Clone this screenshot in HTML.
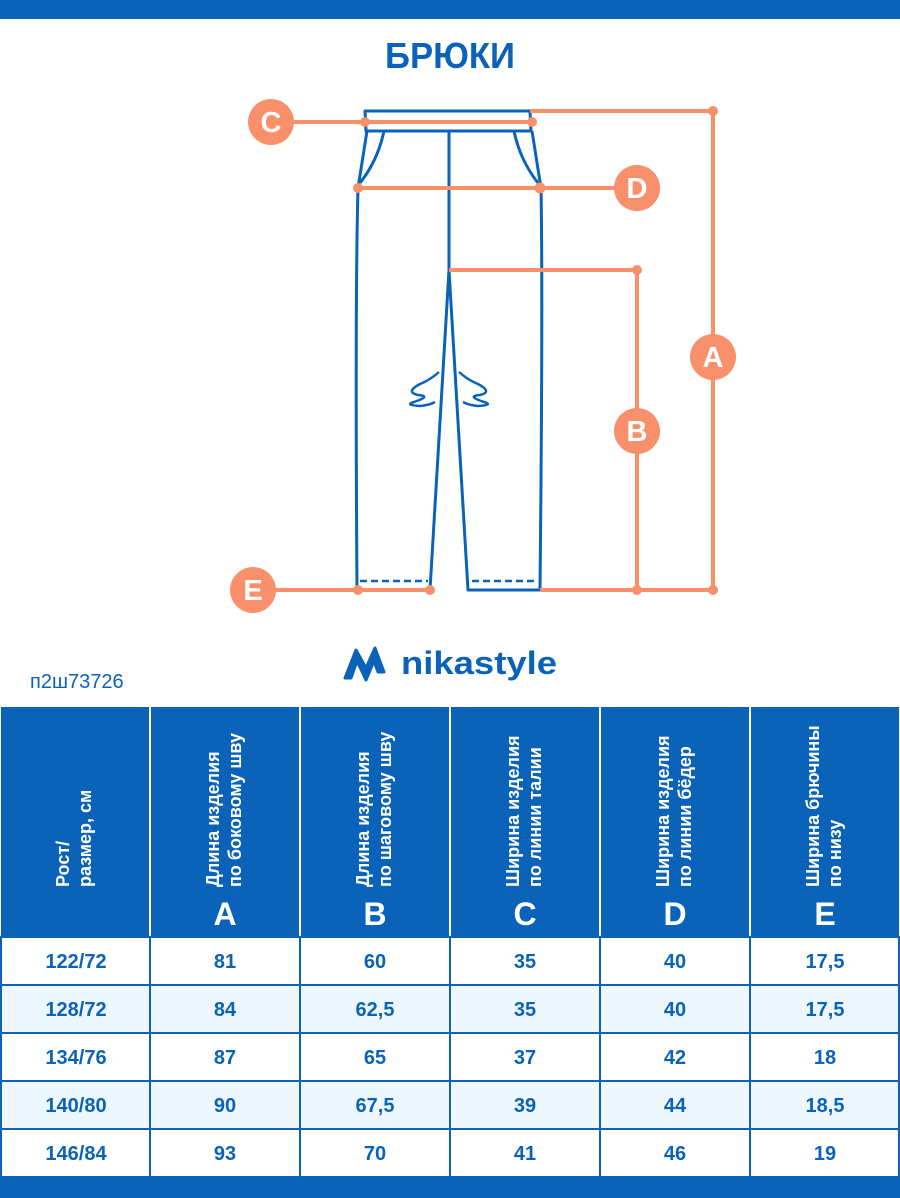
<!DOCTYPE html>
<html><head><meta charset="utf-8"><style>
html,body{margin:0;padding:0;background:#fff;}
svg{display:block;}
text{font-family:"Liberation Sans","DejaVu Sans",sans-serif;}
</style></head><body>
<svg width="900" height="1198" viewBox="0 0 900 1198" xmlns="http://www.w3.org/2000/svg">
<rect x="0" y="0" width="900" height="19" fill="#0a63b9"/>
<text x="450" y="68" text-anchor="middle" font-size="36" font-weight="bold" fill="#0a63b9" textLength="130" lengthAdjust="spacingAndGlyphs">БРЮКИ</text>

<!-- pants -->
<g fill="none" stroke="#0a63b9" stroke-width="3" stroke-linejoin="round">
<path d="M365 111 L530 111 L531 131 L366 131 Z"/>
<path d="M367 131 L358 188 Q355 300 357 590 L430 590 L449 270 L468 590 L540 590 Q543 300 541 188 L532 131"/>
<path d="M449 131 L449 270"/>
<path d="M384 131 Q378 160 360 183"/>
<path d="M514 131 Q520 160 538 183"/>
<path d="M439 372 Q430 380 420 384 Q405 392 418 395 Q432 396 414 402 Q404 405 420 406 Q430 405 435 402" stroke-width="2.5"/>
<path d="M459 372 Q468 380 478 384 Q493 392 480 395 Q466 396 484 402 Q494 405 478 406 Q468 405 463 402" stroke-width="2.5"/>
<path d="M360 581 L428 581 M472 581 L538 581" stroke-dasharray="7 4" stroke-width="2.5"/>
</g>

<g stroke="#f7906b" stroke-width="4" fill="none">
<path d="M270 122 L532 122"/>
<path d="M358 188 L637 188"/>
<path d="M530 111 L713 111 L713 590 L540 590"/>
<path d="M449 270 L637 270 L637 590"/>
<path d="M253 590 L430 590"/>
</g>
<g fill="#f7906b">
<circle cx="365" cy="122" r="5"/><circle cx="532" cy="122" r="5"/>
<circle cx="358" cy="188" r="5"/><circle cx="540" cy="188" r="5.5"/>
<circle cx="713" cy="111" r="5"/><circle cx="713" cy="590" r="5"/>
<circle cx="637" cy="270" r="5"/><circle cx="637" cy="590" r="5"/>
<circle cx="358" cy="590" r="5"/><circle cx="430" cy="590" r="5"/>
<circle cx="271" cy="122" r="23"/>
<circle cx="637" cy="188" r="23"/>
<circle cx="713" cy="357" r="23"/>
<circle cx="637" cy="431" r="23"/>
<circle cx="253" cy="590" r="23"/>
</g>
<g fill="#fff" font-size="29" font-weight="bold" text-anchor="middle">
<text x="271" y="132">C</text>
<text x="637" y="198">D</text>
<text x="713" y="367">A</text>
<text x="637" y="441">B</text>
<text x="253" y="600">E</text>
</g>

<!-- logo -->
<path d="M345 678 L356 650 L366 668 L375 648 L384 672 L378 672 L374 661 L366 680 L357 661 L351 678 Z" fill="#0a63b9" stroke="#0a63b9" stroke-width="3" stroke-linejoin="round"/>
<text x="401" y="674" font-size="32" font-weight="bold" fill="#0a63b9" textLength="156" lengthAdjust="spacingAndGlyphs">nikastyle</text>
<text x="30" y="688" font-size="20" fill="#0a63b9">п2ш73726</text>

<!-- table header -->
<rect x="1" y="707" width="898" height="230" fill="#0a63b9"/>
<g stroke="#fff" stroke-width="2">
<path d="M150 707 V937 M300 707 V937 M450 707 V937 M600 707 V937 M750 707 V937"/>
</g>
<g fill="#fff" font-size="18" font-weight="bold">
<text transform="translate(69,887) rotate(-90)">Рост/</text>
<text transform="translate(91,887) rotate(-90)">размер, см</text>
<text transform="translate(219,887) rotate(-90)">Длина изделия</text>
<text transform="translate(241,887) rotate(-90)">по боковому шву</text>
<text transform="translate(369,887) rotate(-90)">Длина изделия</text>
<text transform="translate(391,887) rotate(-90)">по шаговому шву</text>
<text transform="translate(519,887) rotate(-90)">Ширина изделия</text>
<text transform="translate(541,887) rotate(-90)">по линии талии</text>
<text transform="translate(669,887) rotate(-90)">Ширина изделия</text>
<text transform="translate(691,887) rotate(-90)">по линии бёдер</text>
<text transform="translate(819,887) rotate(-90)">Ширина брючины</text>
<text transform="translate(841,887) rotate(-90)">по низу</text>
</g>
<g fill="#fff" font-size="32" font-weight="bold" text-anchor="middle">
<text x="225" y="925">A</text><text x="375" y="925">B</text><text x="525" y="925">C</text>
<text x="675" y="925">D</text><text x="825" y="925">E</text>
</g>

<!-- rows -->
<rect x="1" y="985" width="898" height="48" fill="#eef7fd"/>
<rect x="1" y="1081" width="898" height="48" fill="#eef7fd"/>
<g stroke="#0a63b9" stroke-width="2" fill="none">
<rect x="1" y="937" width="898" height="240"/>
<path d="M1 985 H899 M1 1033 H899 M1 1081 H899 M1 1129 H899"/>
<path d="M150 937 V1177 M300 937 V1177 M450 937 V1177 M600 937 V1177 M750 937 V1177"/>
</g>
<g fill="#0a63b9" font-size="20" font-weight="bold" text-anchor="middle">
<text x="76" y="968">122/72</text><text x="225" y="968">81</text><text x="375" y="968">60</text><text x="525" y="968">35</text><text x="675" y="968">40</text><text x="825" y="968">17,5</text>
<text x="76" y="1016">128/72</text><text x="225" y="1016">84</text><text x="375" y="1016">62,5</text><text x="525" y="1016">35</text><text x="675" y="1016">40</text><text x="825" y="1016">17,5</text>
<text x="76" y="1064">134/76</text><text x="225" y="1064">87</text><text x="375" y="1064">65</text><text x="525" y="1064">37</text><text x="675" y="1064">42</text><text x="825" y="1064">18</text>
<text x="76" y="1112">140/80</text><text x="225" y="1112">90</text><text x="375" y="1112">67,5</text><text x="525" y="1112">39</text><text x="675" y="1112">44</text><text x="825" y="1112">18,5</text>
<text x="76" y="1160">146/84</text><text x="225" y="1160">93</text><text x="375" y="1160">70</text><text x="525" y="1160">41</text><text x="675" y="1160">46</text><text x="825" y="1160">19</text>
</g>
<rect x="0" y="1177" width="900" height="21" fill="#0a63b9"/>
</svg>
</body></html>
